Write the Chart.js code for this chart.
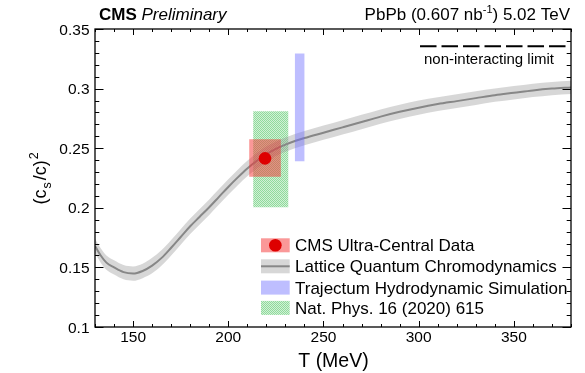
<!DOCTYPE html>
<html>
<head>
<meta charset="utf-8">
<script src="https://cdn.jsdelivr.net/npm/chart.js@4.4.0/dist/chart.umd.min.js"></script>
<style>
  html, body { margin: 0; padding: 0; background: #fff; }
  #wrap { width: 585px; height: 373px; }
</style>
</head>
<body>
<div id="wrap"><canvas id="cs2" width="585" height="373"></canvas></div>
<script>
var FONT = '"Liberation Sans", Arial, Helvetica, sans-serif';

// lattice QCD speed of sound squared vs temperature
var latticeT   = [130, 133, 136, 140, 145, 150, 155, 160, 165, 170, 175, 180, 185, 190, 195,
                  200, 205, 210, 215, 220, 225, 230, 235, 240, 250, 260, 270, 280, 290, 300,
                  310, 320, 330, 340, 350, 360, 370, 380];
var latticeCs2 = [0.168, 0.160, 0.154, 0.150, 0.146, 0.1448, 0.147, 0.1515, 0.158, 0.1665, 0.1755, 0.1845, 0.1925, 0.2005, 0.209,
                  0.2175, 0.2255, 0.233, 0.2395, 0.245, 0.2495, 0.253, 0.256, 0.2585, 0.263, 0.2675, 0.272, 0.2765, 0.2805, 0.284,
                  0.287, 0.2895, 0.292, 0.2945, 0.2965, 0.2985, 0.300, 0.301];
var latticeErr = [0.006, 0.006, 0.006, 0.006, 0.006, 0.006, 0.006, 0.0065, 0.0065, 0.0065, 0.0065, 0.0065, 0.0065, 0.0065, 0.0065,
                  0.0065, 0.0065, 0.0065, 0.0065, 0.0065, 0.006, 0.006, 0.006, 0.006, 0.006, 0.006, 0.006, 0.006, 0.006, 0.006,
                  0.0058, 0.0058, 0.0058, 0.0056, 0.0056, 0.0056, 0.0055, 0.0055];

// CMS ultra-central measurement
var cmsT = 219.3;
var cmsCs2 = 0.2415;
var cmsTRange = [211.0, 227.6];
var cmsCs2Range = [0.226, 0.2575];

// Trajectum hydro simulation
var trajTRange = [235.0, 240.0];
var trajCs2Range = [0.239, 0.3295];

// Nat. Phys. 16 (2020) 615
var natTRange = [213.1, 231.5];
var natCs2Range = [0.2005, 0.281];

// conformal (non-interacting) limit
var limitTRange = [300.7, 377.7];
var limitCs2 = 0.3355;

var xMajor = [150, 200, 250, 300, 350];
var yMajor = [0.1, 0.15, 0.2, 0.25, 0.3, 0.35];
var yLabels = ['0.1', '0.15', '0.2', '0.25', '0.3', '0.35'];

var legendLabels = ['CMS Ultra-Central Data', 'Lattice Quantum Chromodynamics',
                    'Trajectum Hydrodynamic Simulation', 'Nat. Phys. 16 (2020) 615'];

var RED_BOX = 'rgba(245,50,50,0.5)';
var RED_DOT = 'rgb(222,0,0)';
var BLUE_BOX = 'rgba(110,110,255,0.45)';
var BAND = 'rgba(150,150,150,0.38)';
var LINE = 'rgb(135,135,135)';

function makeHatch() {
  var c = document.createElement('canvas');
  c.width = 2; c.height = 2;
  var g = c.getContext('2d');
  g.fillStyle = 'rgba(70,195,90,0.6)';
  g.fillRect(0, 0, 1, 1); g.fillRect(1, 1, 1, 1);
  g.fillStyle = 'rgba(70,195,90,0.25)';
  g.fillRect(1, 0, 1, 1); g.fillRect(0, 1, 1, 1);
  return g.createPattern(c, 'repeat');
}
var HATCH = makeHatch();

function box(xr, yr) {
  return [{x: xr[0], y: yr[0]}, {x: xr[1], y: yr[0]}, {x: xr[1], y: yr[1]}, {x: xr[0], y: yr[1]}];
}

var bandHi = [], bandLo = [], bandMid = [];
latticeT.forEach(function(t, i) {
  bandHi.push({x: t, y: latticeCs2[i] + latticeErr[i]});
  bandLo.push({x: t, y: latticeCs2[i] - latticeErr[i]});
  bandMid.push({x: t, y: latticeCs2[i]});
});

var shapeStyle = {borderWidth: 0, borderColor: 'transparent', pointRadius: 0, fill: 'shape', tension: 0};

var datasets = [
  {label: 'limit', data: [{x: limitTRange[0], y: limitCs2}, {x: limitTRange[1], y: limitCs2}],
   borderColor: '#000', borderWidth: 2, borderDash: [16.5, 5], pointRadius: 0, fill: false, order: 0},
  {label: legendLabels[0], data: [{x: cmsT, y: cmsCs2}], showLine: false,
   pointRadius: 6.3, pointBackgroundColor: RED_DOT, pointBorderWidth: 0, order: 1},
  Object.assign({label: 'cms box', data: box(cmsTRange, cmsCs2Range), backgroundColor: RED_BOX, order: 2}, shapeStyle),
  Object.assign({label: legendLabels[2], data: box(trajTRange, trajCs2Range), backgroundColor: BLUE_BOX, order: 3}, shapeStyle),
  {label: legendLabels[1], data: bandMid, borderColor: LINE, borderWidth: 2, pointRadius: 0,
   fill: false, cubicInterpolationMode: 'monotone', order: 4},
  {label: 'band hi', data: bandHi, borderWidth: 0, borderColor: 'transparent', pointRadius: 0,
   backgroundColor: BAND, fill: '+1', cubicInterpolationMode: 'monotone', order: 5},
  {label: 'band lo', data: bandLo, borderWidth: 0, borderColor: 'transparent', pointRadius: 0,
   fill: false, cubicInterpolationMode: 'monotone', order: 6},
  Object.assign({label: legendLabels[3], data: box(natTRange, natCs2Range), backgroundColor: HATCH, order: 7}, shapeStyle)
];

// frame, inward ticks, labels, legend, header - ROOT style
var decor = {
  id: 'decor',
  afterDraw: function(chart) {
    var ctx = chart.ctx, a = chart.chartArea;
    var xs = chart.scales.x, ys = chart.scales.y;
    ctx.save();
    ctx.strokeStyle = '#000';
    ctx.lineWidth = 1.3;
    ctx.strokeRect(a.left, a.top, a.right - a.left, a.bottom - a.top);

    ctx.lineWidth = 1;
    ctx.beginPath();
    for (var t = 130; t <= 380; t += 10) {
      var px = Math.round(xs.getPixelForValue(t)) + 0.5;
      var len = (t % 50 === 0) ? 6 : 3;
      ctx.moveTo(px, a.bottom); ctx.lineTo(px, a.bottom - len);
      ctx.moveTo(px, a.top); ctx.lineTo(px, a.top + len);
    }
    for (var k = 10; k <= 35; k++) {
      var py = Math.round(ys.getPixelForValue(k / 100)) + 0.5;
      var ylen = (k % 5 === 0) ? 8.5 : 4.3;
      ctx.moveTo(a.left, py); ctx.lineTo(a.left + ylen, py);
      ctx.moveTo(a.right, py); ctx.lineTo(a.right - ylen, py);
    }
    ctx.stroke();

    // tick labels
    ctx.fillStyle = '#000';
    ctx.font = '15.5px ' + FONT;
    ctx.textAlign = 'center';
    ctx.textBaseline = 'alphabetic';
    xMajor.forEach(function(v) {
      ctx.fillText(String(v), xs.getPixelForValue(v), 341.7);
    });
    ctx.textAlign = 'right';
    yMajor.forEach(function(v, i) {
      ctx.fillText(yLabels[i], 89.5, ys.getPixelForValue(v) + 5.5);
    });

    // x title
    ctx.font = '19.5px ' + FONT;
    ctx.textAlign = 'left';
    ctx.fillText('T (MeV)', 298.3, 367);

    // y title (c_s/c)^2
    ctx.save();
    ctx.translate(46, 178.5);
    ctx.rotate(-Math.PI / 2);
    var big = '18px ' + FONT, small = '12.5px ' + FONT;
    ctx.font = big; var w1 = ctx.measureText('(c').width;
    ctx.font = small; var w2 = ctx.measureText('s').width;
    ctx.font = big; var w3 = ctx.measureText('/c)').width;
    ctx.font = small; var w4 = ctx.measureText('2').width;
    var total = w1 + 1 + w2 + 2 + w3 + 1 + w4;
    var sx = -total / 2;
    ctx.font = big; ctx.fillText('(c', sx, 0); sx += w1 + 1;
    ctx.font = small; ctx.fillText('s', sx, 5); sx += w2 + 2;
    ctx.font = big; ctx.fillText('/c)', sx, 0); sx += w3 + 1;
    ctx.font = small; ctx.fillText('2', sx, -8);
    ctx.restore();

    // header
    ctx.font = 'bold 17px ' + FONT;
    ctx.fillText('CMS', 99, 20);
    var cw = ctx.measureText('CMS ').width;
    ctx.font = 'italic 17px ' + FONT;
    ctx.fillText('Preliminary', 99 + cw, 20);

    var f17 = '17px ' + FONT, f11 = '11px ' + FONT;
    ctx.font = f17; var p1 = 'PbPb (0.607 nb', p3 = ') 5.02 TeV';
    var r1 = ctx.measureText(p1).width, r3 = ctx.measureText(p3).width;
    ctx.font = f11; var r2 = ctx.measureText('-1').width;
    var hx = 570 - (r1 + r2 + r3);
    ctx.font = f17; ctx.fillText(p1, hx, 20); hx += r1;
    ctx.font = f11; ctx.fillText('-1', hx, 13); hx += r2;
    ctx.font = f17; ctx.fillText(p3, hx, 20);

    // non-interacting limit label
    ctx.font = '15px ' + FONT;
    ctx.textAlign = 'center';
    ctx.fillText('non-interacting limit', 489, 63.5);

    // legend
    var rows = [245.3, 266.3, 287.6, 307.9];
    var lx0 = 261, lx1 = 289.7, sh = 14;
    ctx.textAlign = 'left';
    ctx.font = '17px ' + FONT;
    rows.forEach(function(ry, i) {
      var top = ry - sh / 2;
      if (i === 0) {
        ctx.fillStyle = RED_BOX; ctx.fillRect(lx0, top, lx1 - lx0, sh);
        ctx.fillStyle = RED_DOT; ctx.beginPath();
        ctx.arc((lx0 + lx1) / 2, ry, 6.3, 0, Math.PI * 2); ctx.fill();
      } else if (i === 1) {
        ctx.fillStyle = BAND; ctx.fillRect(lx0, top, lx1 - lx0, sh);
        ctx.strokeStyle = LINE; ctx.lineWidth = 2;
        ctx.beginPath(); ctx.moveTo(lx0, ry); ctx.lineTo(lx1, ry); ctx.stroke();
      } else if (i === 2) {
        ctx.fillStyle = BLUE_BOX; ctx.fillRect(lx0, top, lx1 - lx0, sh);
      } else {
        ctx.fillStyle = HATCH; ctx.fillRect(lx0, top, lx1 - lx0, sh);
      }
      ctx.fillStyle = '#000';
      ctx.fillText(legendLabels[i], 295, ry + 6);
    });
    ctx.restore();
  }
};

new Chart(document.getElementById('cs2'), {
  type: 'line',
  data: {datasets: datasets},
  options: {
    responsive: false,
    animation: false,
    layout: {padding: {left: 95, top: 29, right: 14, bottom: 46}},
    plugins: {legend: {display: false}, tooltip: {enabled: false}},
    scales: {
      x: {type: 'linear', min: 130, max: 380, display: false},
      y: {type: 'linear', min: 0.1, max: 0.35, display: false}
    }
  },
  plugins: [decor]
});
</script>
</body>
</html>
